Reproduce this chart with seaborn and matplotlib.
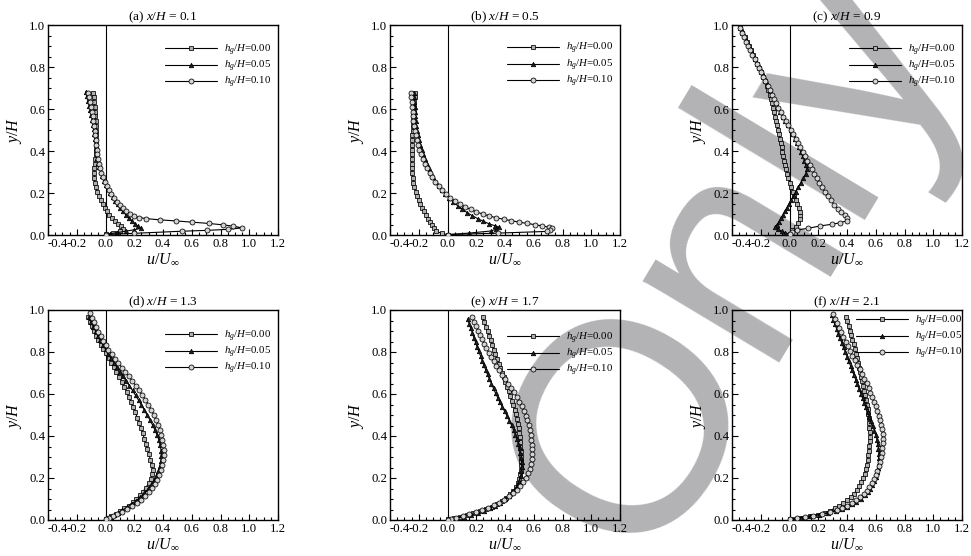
import matplotlib
matplotlib.use("Agg")
import matplotlib.pyplot as plt
from matplotlib.ticker import MultipleLocator, FormatStrFormatter
import pandas as pd
import seaborn as sns

# Streamwise velocity profiles u/U_inf against y/H at six stations x/H,
# for three gap heights h_g/H. Each series is a list of (u/U_inf, y/H).
stations = [0.1, 0.5, 0.9, 1.3, 1.7, 2.1]
panel_tags = ["a", "b", "c", "d", "e", "f"]
gap_labels = ["0.00", "0.05", "0.10"]
x_ticks = [-0.4, -0.2, 0.0, 0.2, 0.4, 0.6, 0.8, 1.0, 1.2]
y_ticks = [0.0, 0.2, 0.4, 0.6, 0.8, 1.0]

a_g000 = [(-0.087,0.678),(-0.083,0.655),(-0.079,0.632),(-0.076,0.61),(-0.073,0.587),(-0.071,0.565),(-0.069,0.542),(-0.067,0.52),(-0.066,0.497),(-0.065,0.475),(-0.065,0.452),(-0.066,0.43),(-0.067,0.407),(-0.069,0.385),(-0.072,0.362),(-0.075,0.34),(-0.078,0.317),(-0.08,0.295),(-0.079,0.272),(-0.075,0.25),(-0.068,0.228),(-0.058,0.207),(-0.047,0.186),(-0.034,0.166),(-0.02,0.147),(-0.006,0.129),(0.01,0.112),(0.027,0.096),(0.046,0.081),(0.066,0.067),(0.087,0.054),(0.108,0.042),(0.125,0.03),(0.1,0.02),(0.05,0.01),(0.0,0.003)]
a_g005 = [(-0.138,0.683),(-0.13,0.66),(-0.122,0.638),(-0.113,0.615),(-0.105,0.593),(-0.098,0.57),(-0.092,0.548),(-0.087,0.525),(-0.082,0.503),(-0.077,0.48),(-0.073,0.458),(-0.069,0.435),(-0.065,0.413),(-0.061,0.39),(-0.056,0.368),(-0.05,0.345),(-0.043,0.323),(-0.034,0.301),(-0.024,0.28),(-0.012,0.259),(0.001,0.239),(0.016,0.219),(0.032,0.2),(0.049,0.181),(0.066,0.163),(0.084,0.146),(0.103,0.129),(0.122,0.112),(0.142,0.096),(0.162,0.081),(0.183,0.066),(0.205,0.052),(0.228,0.041),(0.25,0.033),(0.2,0.025),(0.14,0.018),(0.08,0.011),(0.03,0.006),(0.0,0.002)]
a_g010 = [(-0.122,0.678),(-0.115,0.655),(-0.108,0.632),(-0.101,0.61),(-0.095,0.587),(-0.089,0.565),(-0.084,0.542),(-0.079,0.52),(-0.075,0.497),(-0.071,0.475),(-0.067,0.452),(-0.063,0.43),(-0.06,0.407),(-0.056,0.385),(-0.051,0.362),(-0.045,0.34),(-0.037,0.318),(-0.028,0.296),(-0.017,0.275),(-0.005,0.254),(0.009,0.234),(0.024,0.214),(0.04,0.195),(0.058,0.177),(0.077,0.159),(0.098,0.143),(0.12,0.128),(0.145,0.114),(0.172,0.101),(0.2,0.09),(0.235,0.083),(0.285,0.078),(0.38,0.072),(0.49,0.067),(0.605,0.061),(0.72,0.055),(0.82,0.048),(0.888,0.042),(0.95,0.034),(0.855,0.027),(0.705,0.022),(0.53,0.018),(0.2,0.008),(0.0,0.002)]

b_g000 = [(-0.226,0.678),(-0.229,0.655),(-0.232,0.632),(-0.234,0.61),(-0.236,0.587),(-0.238,0.565),(-0.24,0.542),(-0.242,0.52),(-0.243,0.497),(-0.245,0.475),(-0.246,0.452),(-0.247,0.43),(-0.248,0.407),(-0.249,0.385),(-0.249,0.362),(-0.249,0.34),(-0.248,0.317),(-0.246,0.295),(-0.243,0.272),(-0.238,0.25),(-0.231,0.228),(-0.222,0.207),(-0.212,0.187),(-0.201,0.167),(-0.189,0.148),(-0.176,0.13),(-0.162,0.112),(-0.148,0.095),(-0.134,0.078),(-0.12,0.062),(-0.106,0.046),(-0.093,0.032),(-0.082,0.018),(-0.04,0.008),(0.0,0.002)]
b_g005 = [(-0.235,0.678),(-0.232,0.655),(-0.23,0.632),(-0.228,0.61),(-0.226,0.587),(-0.224,0.565),(-0.221,0.542),(-0.217,0.52),(-0.212,0.497),(-0.206,0.475),(-0.199,0.452),(-0.19,0.43),(-0.18,0.407),(-0.169,0.385),(-0.157,0.362),(-0.144,0.34),(-0.13,0.318),(-0.115,0.296),(-0.098,0.275),(-0.08,0.254),(-0.06,0.234),(-0.038,0.214),(-0.014,0.195),(0.012,0.176),(0.04,0.158),(0.07,0.14),(0.102,0.123),(0.136,0.107),(0.172,0.092),(0.21,0.078),(0.25,0.065),(0.29,0.053),(0.33,0.044),(0.355,0.038),(0.34,0.028),(0.3,0.019),(0.15,0.009),(0.0,0.002)]
b_g010 = [(-0.256,0.678),(-0.252,0.655),(-0.249,0.632),(-0.246,0.61),(-0.243,0.587),(-0.24,0.565),(-0.237,0.542),(-0.233,0.52),(-0.228,0.497),(-0.222,0.475),(-0.215,0.452),(-0.206,0.43),(-0.196,0.407),(-0.185,0.385),(-0.172,0.362),(-0.158,0.34),(-0.142,0.318),(-0.125,0.296),(-0.106,0.275),(-0.085,0.254),(-0.062,0.234),(-0.037,0.214),(-0.01,0.195),(0.02,0.177),(0.052,0.161),(0.086,0.147),(0.122,0.134),(0.16,0.122),(0.2,0.11),(0.245,0.1),(0.29,0.091),(0.34,0.082),(0.39,0.075),(0.445,0.068),(0.5,0.061),(0.555,0.055),(0.61,0.049),(0.66,0.043),(0.705,0.037),(0.73,0.032),(0.71,0.024),(0.69,0.017),(0.35,0.009),(0.0,0.002)]

c_g000 = [(-0.342,0.984),(-0.328,0.963),(-0.313,0.942),(-0.298,0.921),(-0.283,0.9),(-0.268,0.879),(-0.254,0.858),(-0.24,0.837),(-0.226,0.816),(-0.212,0.795),(-0.198,0.774),(-0.185,0.753),(-0.172,0.732),(-0.16,0.711),(-0.149,0.69),(-0.139,0.669),(-0.13,0.648),(-0.122,0.627),(-0.114,0.606),(-0.106,0.585),(-0.099,0.564),(-0.092,0.543),(-0.085,0.522),(-0.079,0.501),(-0.073,0.48),(-0.067,0.459),(-0.061,0.438),(-0.055,0.417),(-0.049,0.396),(-0.043,0.375),(-0.037,0.354),(-0.03,0.333),(-0.023,0.312),(-0.015,0.291),(-0.007,0.27),(0.002,0.249),(0.012,0.228),(0.022,0.207),(0.033,0.187),(0.044,0.167),(0.055,0.148),(0.064,0.129),(0.071,0.11),(0.074,0.092),(0.071,0.074),(0.06,0.057),(0.042,0.04),(0.02,0.023),(0.0,0.004)]
c_g005 = [(-0.335,0.984),(-0.322,0.963),(-0.308,0.942),(-0.294,0.921),(-0.28,0.9),(-0.266,0.879),(-0.251,0.858),(-0.237,0.837),(-0.222,0.816),(-0.207,0.795),(-0.192,0.774),(-0.177,0.753),(-0.162,0.732),(-0.148,0.711),(-0.134,0.69),(-0.12,0.669),(-0.106,0.648),(-0.092,0.627),(-0.079,0.606),(-0.064,0.585),(-0.047,0.564),(-0.029,0.543),(-0.01,0.522),(0.008,0.501),(0.024,0.48),(0.039,0.459),(0.053,0.438),(0.066,0.417),(0.079,0.396),(0.092,0.375),(0.104,0.354),(0.115,0.333),(0.122,0.312),(0.112,0.291),(0.095,0.27),(0.078,0.249),(0.061,0.228),(0.044,0.207),(0.028,0.187),(0.012,0.167),(-0.003,0.148),(-0.018,0.13),(-0.033,0.112),(-0.047,0.095),(-0.06,0.079),(-0.073,0.064),(-0.086,0.05),(-0.1,0.038),(-0.08,0.027),(-0.055,0.018),(-0.028,0.01),(0.0,0.003)]
c_g010 = [(-0.347,0.984),(-0.333,0.963),(-0.318,0.942),(-0.303,0.921),(-0.288,0.9),(-0.273,0.879),(-0.258,0.858),(-0.243,0.837),(-0.228,0.816),(-0.213,0.795),(-0.198,0.774),(-0.183,0.753),(-0.168,0.732),(-0.153,0.711),(-0.138,0.69),(-0.123,0.669),(-0.108,0.648),(-0.093,0.627),(-0.078,0.606),(-0.062,0.585),(-0.045,0.564),(-0.027,0.543),(-0.009,0.522),(0.009,0.501),(0.026,0.48),(0.043,0.459),(0.06,0.438),(0.076,0.417),(0.092,0.396),(0.108,0.375),(0.124,0.354),(0.14,0.333),(0.156,0.312),(0.172,0.291),(0.189,0.27),(0.207,0.249),(0.226,0.228),(0.246,0.207),(0.266,0.186),(0.287,0.165),(0.31,0.145),(0.336,0.126),(0.36,0.108),(0.385,0.093),(0.398,0.08),(0.4,0.068),(0.35,0.058),(0.293,0.051),(0.212,0.043),(0.131,0.032),(0.055,0.024),(0.015,0.012),(0.0,0.003)]

d_g000 = [(-0.12,0.968),(-0.108,0.945),(-0.095,0.922),(-0.082,0.9),(-0.066,0.878),(-0.05,0.856),(-0.033,0.835),(-0.015,0.814),(0.003,0.793),(0.022,0.772),(0.04,0.75),(0.058,0.728),(0.076,0.705),(0.094,0.682),(0.112,0.659),(0.13,0.635),(0.147,0.611),(0.163,0.587),(0.178,0.563),(0.193,0.538),(0.207,0.513),(0.221,0.488),(0.234,0.463),(0.247,0.438),(0.259,0.413),(0.27,0.388),(0.281,0.363),(0.292,0.338),(0.302,0.313),(0.312,0.288),(0.32,0.263),(0.327,0.24),(0.325,0.217),(0.315,0.195),(0.3,0.174),(0.281,0.154),(0.26,0.135),(0.238,0.117),(0.215,0.1),(0.19,0.084),(0.16,0.069),(0.13,0.055),(0.1,0.042),(0.07,0.03),(0.04,0.019),(0.016,0.01),(0.0,0.004)]
d_g005 = [(-0.116,0.965),(-0.1,0.942),(-0.084,0.92),(-0.068,0.898),(-0.052,0.876),(-0.035,0.855),(-0.018,0.834),(0.0,0.813),(0.018,0.792),(0.038,0.771),(0.058,0.75),(0.079,0.728),(0.1,0.706),(0.122,0.684),(0.144,0.662),(0.166,0.64),(0.188,0.617),(0.209,0.594),(0.23,0.571),(0.25,0.548),(0.27,0.524),(0.29,0.5),(0.31,0.476),(0.328,0.452),(0.345,0.428),(0.36,0.404),(0.372,0.38),(0.381,0.355),(0.387,0.33),(0.388,0.305),(0.385,0.28),(0.378,0.256),(0.367,0.232),(0.353,0.209),(0.336,0.187),(0.316,0.166),(0.294,0.146),(0.27,0.127),(0.243,0.109),(0.214,0.092),(0.183,0.076),(0.151,0.061),(0.118,0.047),(0.086,0.035),(0.056,0.024),(0.03,0.014),(0.01,0.006),(0.0,0.002)]
d_g010 = [(-0.111,0.986),(-0.097,0.964),(-0.081,0.941),(-0.065,0.918),(-0.05,0.896),(-0.034,0.874),(-0.017,0.852),(0.0,0.831),(0.02,0.81),(0.042,0.789),(0.066,0.768),(0.09,0.747),(0.114,0.726),(0.138,0.705),(0.162,0.684),(0.186,0.662),(0.21,0.64),(0.233,0.618),(0.256,0.595),(0.278,0.572),(0.299,0.548),(0.318,0.524),(0.336,0.5),(0.352,0.476),(0.366,0.452),(0.378,0.428),(0.388,0.404),(0.396,0.38),(0.401,0.356),(0.404,0.332),(0.404,0.308),(0.401,0.284),(0.395,0.26),(0.386,0.237),(0.374,0.214),(0.359,0.192),(0.342,0.171),(0.322,0.151),(0.3,0.132),(0.275,0.114),(0.248,0.097),(0.218,0.081),(0.186,0.066),(0.152,0.052),(0.117,0.039),(0.082,0.028),(0.05,0.018),(0.022,0.009),(0.0,0.003)]

e_g000 = [(0.244,0.965),(0.255,0.943),(0.267,0.921),(0.279,0.899),(0.29,0.877),(0.301,0.855),(0.312,0.833),(0.322,0.811),(0.333,0.789),(0.344,0.767),(0.355,0.745),(0.366,0.723),(0.378,0.701),(0.39,0.679),(0.402,0.657),(0.414,0.635),(0.426,0.613),(0.437,0.591),(0.448,0.569),(0.458,0.547),(0.467,0.525),(0.476,0.503),(0.484,0.481),(0.49,0.459),(0.495,0.437),(0.499,0.415),(0.502,0.393),(0.504,0.371),(0.506,0.349),(0.508,0.327),(0.509,0.305),(0.51,0.283),(0.511,0.261),(0.51,0.239),(0.506,0.217),(0.499,0.196),(0.489,0.176),(0.476,0.157),(0.458,0.139),(0.436,0.122),(0.41,0.106),(0.38,0.091),(0.345,0.077),(0.308,0.064),(0.268,0.052),(0.225,0.041),(0.18,0.031),(0.135,0.022),(0.09,0.014),(0.045,0.008),(0.0,0.003)]
e_g005 = [(0.14,0.957),(0.151,0.935),(0.162,0.913),(0.173,0.891),(0.184,0.869),(0.195,0.847),(0.206,0.825),(0.218,0.803),(0.23,0.781),(0.242,0.759),(0.254,0.737),(0.266,0.715),(0.279,0.693),(0.292,0.671),(0.306,0.649),(0.32,0.627),(0.334,0.605),(0.349,0.583),(0.365,0.561),(0.381,0.539),(0.398,0.517),(0.415,0.495),(0.431,0.473),(0.446,0.451),(0.46,0.429),(0.472,0.407),(0.483,0.385),(0.493,0.363),(0.501,0.341),(0.507,0.319),(0.512,0.297),(0.515,0.275),(0.516,0.253),(0.514,0.231),(0.509,0.209),(0.5,0.188),(0.488,0.168),(0.472,0.149),(0.452,0.131),(0.428,0.114),(0.4,0.098),(0.368,0.083),(0.333,0.069),(0.295,0.056),(0.255,0.044),(0.212,0.033),(0.165,0.024),(0.115,0.016),(0.065,0.009),(0.025,0.004),(0.0,0.002)]
e_g010 = [(0.17,0.965),(0.183,0.944),(0.197,0.923),(0.211,0.902),(0.226,0.881),(0.241,0.86),(0.256,0.839),(0.271,0.818),(0.287,0.797),(0.303,0.776),(0.32,0.755),(0.338,0.734),(0.357,0.713),(0.377,0.692),(0.398,0.671),(0.419,0.65),(0.44,0.629),(0.461,0.608),(0.481,0.586),(0.5,0.564),(0.517,0.542),(0.532,0.52),(0.545,0.497),(0.556,0.474),(0.565,0.451),(0.572,0.428),(0.578,0.405),(0.582,0.382),(0.585,0.359),(0.587,0.336),(0.588,0.313),(0.587,0.29),(0.582,0.267),(0.573,0.245),(0.561,0.223),(0.546,0.202),(0.528,0.182),(0.507,0.163),(0.483,0.145),(0.456,0.128),(0.426,0.112),(0.393,0.097),(0.358,0.083),(0.32,0.07),(0.28,0.058),(0.238,0.047),(0.195,0.037),(0.15,0.028),(0.105,0.019),(0.06,0.011),(0.022,0.005),(0.0,0.002)]

f_g000 = [(0.393,0.968),(0.402,0.946),(0.411,0.924),(0.42,0.902),(0.429,0.88),(0.438,0.858),(0.447,0.836),(0.456,0.814),(0.464,0.792),(0.471,0.77),(0.478,0.748),(0.485,0.726),(0.492,0.704),(0.499,0.682),(0.506,0.66),(0.513,0.638),(0.52,0.616),(0.526,0.594),(0.532,0.572),(0.538,0.55),(0.543,0.528),(0.547,0.506),(0.551,0.484),(0.554,0.462),(0.556,0.44),(0.558,0.418),(0.558,0.396),(0.557,0.374),(0.555,0.352),(0.552,0.33),(0.548,0.308),(0.543,0.286),(0.537,0.264),(0.53,0.242),(0.522,0.221),(0.512,0.2),(0.5,0.18),(0.486,0.161),(0.469,0.143),(0.45,0.126),(0.428,0.11),(0.402,0.095),(0.375,0.081),(0.345,0.068),(0.315,0.056),(0.283,0.045),(0.245,0.035),(0.195,0.026),(0.14,0.018),(0.08,0.011),(0.035,0.006),(0.0,0.003)]
f_g005 = [(0.296,0.976),(0.306,0.954),(0.317,0.932),(0.328,0.91),(0.34,0.888),(0.352,0.866),(0.364,0.844),(0.376,0.822),(0.389,0.8),(0.401,0.778),(0.413,0.756),(0.425,0.734),(0.437,0.712),(0.449,0.69),(0.461,0.668),(0.473,0.646),(0.485,0.624),(0.497,0.602),(0.509,0.58),(0.52,0.558),(0.531,0.536),(0.543,0.514),(0.555,0.492),(0.567,0.47),(0.579,0.448),(0.59,0.426),(0.601,0.404),(0.609,0.382),(0.615,0.36),(0.619,0.338),(0.622,0.316),(0.622,0.294),(0.62,0.272),(0.615,0.25),(0.609,0.228),(0.601,0.207),(0.59,0.187),(0.577,0.168),(0.562,0.15),(0.544,0.133),(0.522,0.117),(0.496,0.102),(0.466,0.088),(0.434,0.075),(0.4,0.063),(0.364,0.052),(0.32,0.042),(0.265,0.033),(0.205,0.025),(0.145,0.018),(0.08,0.011),(0.035,0.006),(0.0,0.003)]
f_g010 = [(0.303,0.981),(0.316,0.959),(0.33,0.937),(0.344,0.915),(0.359,0.893),(0.375,0.871),(0.39,0.849),(0.405,0.827),(0.42,0.805),(0.436,0.783),(0.453,0.761),(0.47,0.739),(0.488,0.717),(0.505,0.695),(0.521,0.673),(0.536,0.651),(0.55,0.629),(0.563,0.607),(0.576,0.585),(0.588,0.563),(0.6,0.541),(0.612,0.519),(0.623,0.497),(0.632,0.475),(0.639,0.453),(0.644,0.431),(0.647,0.409),(0.648,0.387),(0.648,0.365),(0.646,0.343),(0.642,0.321),(0.637,0.299),(0.63,0.277),(0.621,0.255),(0.611,0.234),(0.6,0.213),(0.587,0.193),(0.572,0.174),(0.555,0.156),(0.536,0.139),(0.515,0.123),(0.49,0.108),(0.462,0.094),(0.432,0.081),(0.4,0.069),(0.365,0.058),(0.33,0.048),(0.28,0.038),(0.225,0.029),(0.165,0.021),(0.105,0.014),(0.05,0.008),(0.0,0.003)]

profiles = {
    "a": [a_g000, a_g005, a_g010],
    "b": [b_g000, b_g005, b_g010],
    "c": [c_g000, c_g005, c_g010],
    "d": [d_g000, d_g005, d_g010],
    "e": [e_g000, e_g005, e_g010],
    "f": [f_g000, f_g005, f_g010],
}

rows = []
for tag in panel_tags:
    for gap, series in zip(gap_labels, profiles[tag]):
        for order, (u, y) in enumerate(series):
            rows.append({"panel": tag, "gap": gap, "order": order, "u": u, "y": y})
df = pd.DataFrame(rows)

sns.set_theme(style="white")
plt.rcParams.update({
    "font.family": ["Liberation Serif", "DejaVu Serif"],
    "mathtext.fontset": "custom",
    "mathtext.rm": "Liberation Serif",
    "mathtext.it": "Liberation Serif:italic",
    "mathtext.bf": "Liberation Serif:bold",
    "axes.unicode_minus": False,
    "axes.edgecolor": "black",
    "axes.linewidth": 1.0,
    "xtick.color": "black",
    "ytick.color": "black",
    "text.color": "black",
    "axes.labelcolor": "black",
})

marker_styles = [
    dict(marker="s", markersize=2.6, markerfacecolor="#b0b0b0"),
    dict(marker="^", markersize=3.2, markerfacecolor="#202020"),
    dict(marker="o", markersize=3.6, markerfacecolor="#d4d4d4"),
]

fig = plt.figure(figsize=(9.71, 5.56), dpi=100)

# Watermark lettering behind the panels
fig.text(0.662, -0.02, "Only", fontsize=216, family="Liberation Sans",
         color="#b3b3b6", rotation=59, rotation_mode="anchor",
         ha="left", va="baseline", zorder=-5)

ax_w, ax_h = 230 / 971, 210 / 556
lefts = [48 / 971, 390 / 971, 732 / 971]
bottoms = [1 - 235 / 556, 1 - 520 / 556]
legend_anchor = {
    "a": (0.51, 0.917), "b": (0.51, 0.922), "c": (0.51, 0.917),
    "d": (0.51, 0.912), "e": (0.51, 0.902), "f": (0.54, 0.983),
}

for i, tag in enumerate(panel_tags):
    ax = fig.add_axes([lefts[i % 3], bottoms[i // 3], ax_w, ax_h])
    ax.set_facecolor("none")
    ax.axvline(0.0, color="black", lw=0.8, zorder=1)
    handles = []
    for gap, style in zip(gap_labels, marker_styles):
        sub = df[(df.panel == tag) & (df.gap == gap)].sort_values("order")
        sns.lineplot(data=sub, x="u", y="y", sort=False, estimator=None,
                     color="black", lw=0.8, markeredgecolor="black",
                     markeredgewidth=0.55, ax=ax, zorder=3, **style)
        handles.append(ax.lines[-1])
    ax.set_xlim(-0.4, 1.2)
    ax.set_ylim(0.0, 1.0)
    ax.set_xticks(x_ticks)
    ax.set_yticks(y_ticks)
    ax.xaxis.set_major_formatter(FormatStrFormatter("%.1f"))
    ax.yaxis.set_major_formatter(FormatStrFormatter("%.1f"))
    ax.xaxis.set_minor_locator(MultipleLocator(0.05))
    ax.yaxis.set_minor_locator(MultipleLocator(0.05))
    ax.tick_params(which="both", direction="in", top=False, right=False,
                   bottom=True, left=True, width=0.8, labelsize=9.2)
    ax.tick_params(which="major", length=4.5, pad=2)
    ax.tick_params(which="minor", length=2.2)
    ax.get_xticklabels()[0].set_horizontalalignment("left")
    for sp in ax.spines.values():
        sp.set_color("black")
        sp.set_linewidth(1.0)
    ax.set_xlabel(r"$u/U_{\infty}$", fontsize=11.5, labelpad=1)
    ax.set_ylabel(r"$y/H$", fontsize=11.5, labelpad=4)
    ax.set_title(rf"({tag}) $x/H$ = {stations[i]}", fontsize=9.5, pad=1.5)
    labels = [rf"$h_g/H$=" + g for g in gap_labels]
    ax.legend(handles, labels, loc="upper left",
              bbox_to_anchor=legend_anchor[tag], frameon=False,
              fontsize=7.8, handlelength=4.8, handletextpad=0.6,
              labelspacing=0.12, borderpad=0.0, borderaxespad=0.0,
              numpoints=1)

fig.savefig("out.png", dpi=100)
